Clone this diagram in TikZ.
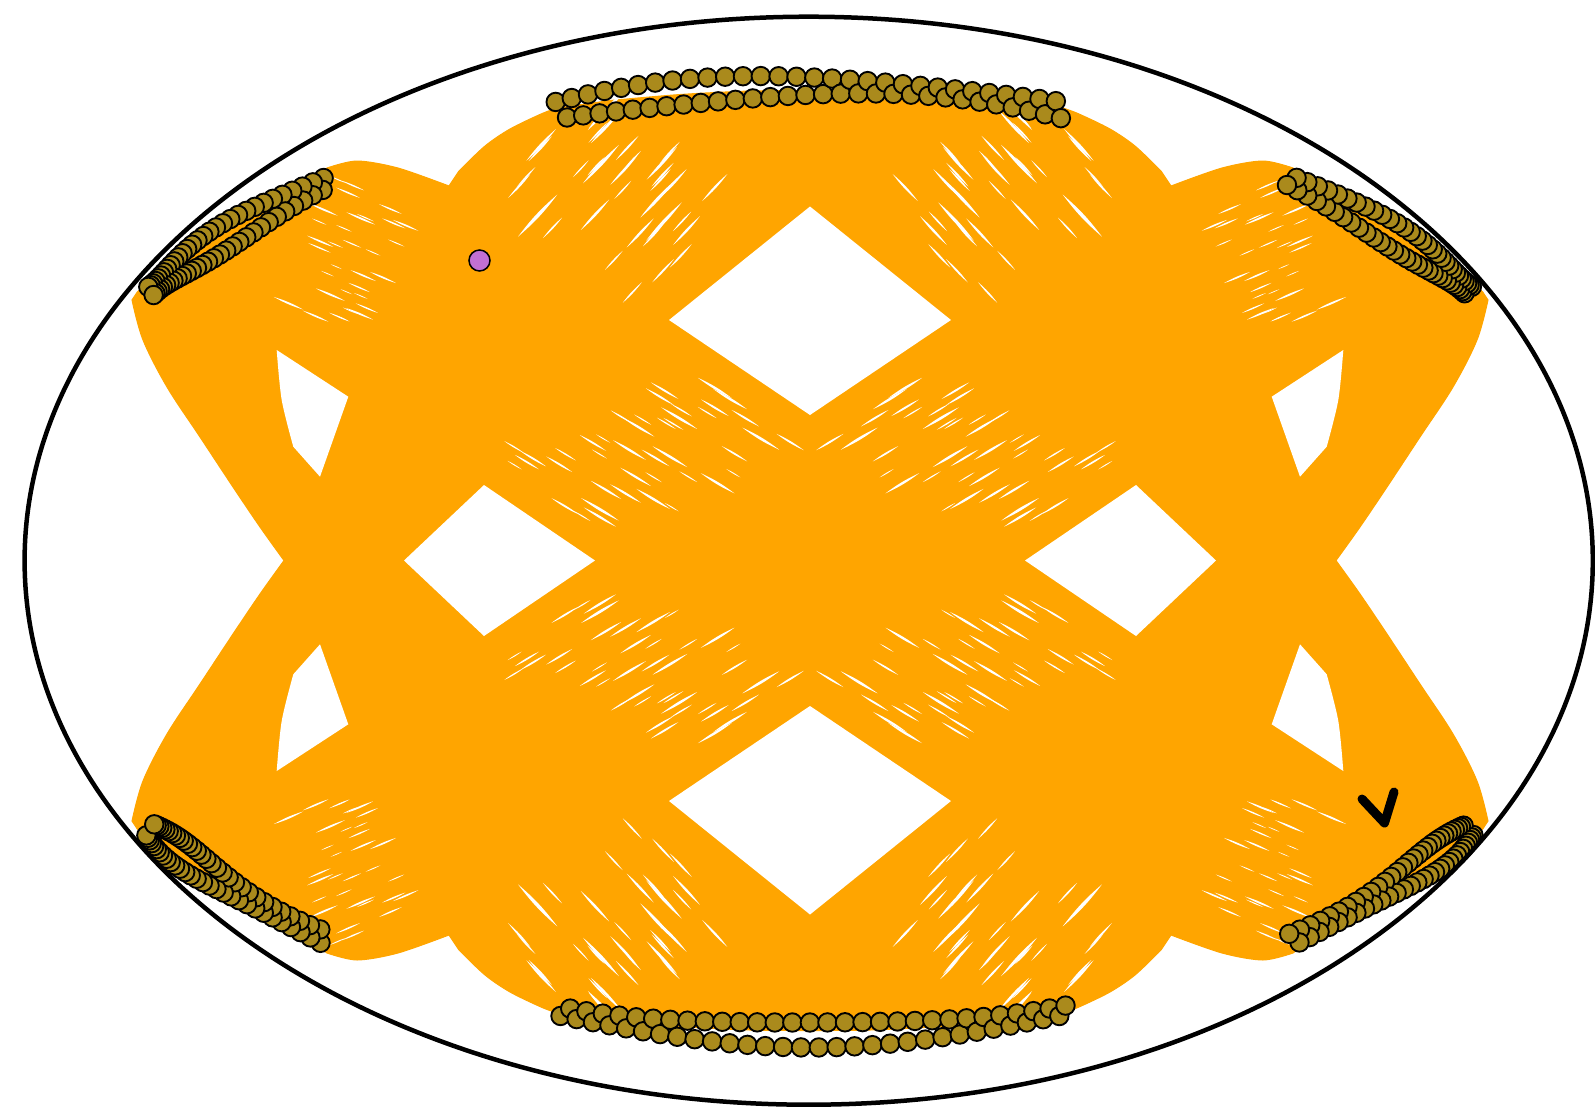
\documentclass[tikz,border=0pt]{standalone}
\definecolor{band}{RGB}{255,165,0}
\definecolor{ball}{RGB}{170,138,28}
\definecolor{startc}{RGB}{194,112,212}
\tikzset{
  quad/.style={fill=band, draw=band, line width=0.4pt},
  hole/.style={fill=white},
  gap/.style={fill=white},
  bouncedot/.style={fill=ball, draw=black, line width=0.75pt},
  table/.style={draw=black, line width=1.8pt},
  chevron/.style={draw=black, line width=3.6pt, line cap=round, line join=round},
}
\newcommand\quarterpath{%
  (1,1) -- (-526,1) -- plot[smooth, tension=0.55] coordinates {(-526,0) (-550,-33.5) (-577,-73.5) (-610,-123.5) (-643,-173.5) (-667,-220.5) (-678,-260.5)}
  -- plot[smooth] coordinates {(-672.6,-268.7) (-638.3,-297.4) (-592.4,-329.4) (-542,-358.9) (-498.7,-380.6)}
  -- plot[smooth] coordinates {(-483,-392.5) (-453,-399.5) (-412,-392.5) (-361,-374.5)}
  -- plot[smooth] coordinates {(-351,-389.5) (-325,-414.5) (-300,-431.5) (-269,-446.5) (-253,-452.5)}
  -- plot[smooth] coordinates {(-200,-460) (-130,-466) (-60,-469.5) (1,-470)} -- cycle}
% one thin lens-shaped gap between neighbouring chords
\newcommand\lens[4]{\path[gap] (#1,#2) to[bend left=6] (#3,#4) to[bend left=6] (#1,#2) -- cycle;}
\newcommand\streaks{%
  \pgfmathsetseed{11}%
  % chords from the top arc down to the lower-left arc
  \foreach \j in {0,...,16}{
    \foreach \r in {1,2}{
      \pgfmathsetmacro\bb{-90+11*\j+2*rand}
      \pgfmathsetmacro\aa{-10+0.2*\bb+80*rand}
      \pgfmathsetmacro\ll{10+20*rnd}
      \pgfmathsetmacro\cx{-188+\aa*0.682+\bb*0.731}
      \pgfmathsetmacro\cy{-369.5-\aa*0.731+\bb*0.682}
      \lens{\cx-\ll*0.682}{\cy+\ll*0.731}{\cx+\ll*0.682}{\cy-\ll*0.731}
    }
  }
  % chords from the upper-left arc to the lower-right arc, near their start
  \foreach \j in {0,...,15}{
    \foreach \r in {1,2}{
      \pgfmathsetmacro\bb{-70+9*\j+2*rand}
      \pgfmathsetmacro\aa{45*rand}
      \pgfmathsetmacro\ll{6+10*rnd}
      \pgfmathsetmacro\cx{-460+\aa*0.918-\bb*0.395}
      \pgfmathsetmacro\cy{-300.5+\aa*0.395+\bb*0.918}
      \lens{\cx-\ll*0.918}{\cy-\ll*0.395}{\cx+\ll*0.918}{\cy+\ll*0.395}
    }
  }
  % the same chords crossing between the diamonds
  \foreach \j in {0,...,20}{
    \foreach \r in {1,2}{
      \pgfmathsetmacro\bb{-88+9*\j+2*rand}
      \pgfmathsetmacro\aa{20-0.7*\bb+75*rand}
      \pgfmathsetmacro\ll{8+14*rnd}
      \pgfmathsetmacro\cx{-176+\aa*0.857-\bb*0.514}
      \pgfmathsetmacro\cy{-118.5+\aa*0.514+\bb*0.857}
      \lens{\cx-\ll*0.857}{\cy-\ll*0.514}{\cx+\ll*0.857}{\cy+\ll*0.514}
    }
  }
}
\begin{document}
\begin{tikzpicture}[x=0.4pt,y=-0.4pt]
\useasboundingbox (0,0) rectangle (1595,1108);
% orange trajectory band (four mirrored quarters)
\foreach \sx/\sy in {1/1,-1/1,1/-1,-1/-1}{
  \begin{scope}[shift={(810,560.5)},xscale=\sx,yscale=\sy]
    \path[quad] \quarterpath;
  \end{scope}
}
% texture of the chord families
\foreach \sx/\sy in {1/1,-1/1,1/-1,-1/-1}{
  \begin{scope}[shift={(810,560.5)},xscale=\sx,yscale=\sy]
    \streaks
  \end{scope}
}
% holes
\begin{scope}[shift={(810,560.5)}]
  \path[hole] (0,-354) -- (141,-240.5) -- (0,-145.5) -- (-141,-240.5) -- cycle;
  \path[hole] (0,354) -- (141,240.5) -- (0,145.5) -- (-141,240.5) -- cycle;
  \path[hole] (-406,0) -- (-326,-75.5) -- (-215,0) -- (-326,75.5) -- cycle;
  \path[hole] (406,0) -- (326,-75.5) -- (215,0) -- (326,75.5) -- cycle;
  \foreach \sx/\sy in {1/1,-1/1,1/-1,-1/-1}{
    \begin{scope}[xscale=\sx,yscale=\sy]
      \path[hole] (-461.7,-163.8) -- (-490,-83.8) -- (-516.7,-113.8)
        -- plot[smooth] coordinates {(-516.7,-113.8) (-528.3,-160.5) (-533.3,-210.5)} -- cycle;
    \end{scope}
  }
\end{scope}
% bounce dots
\foreach \k in {0,...,359}{
  \pgfmathsetmacro\th{-19+120*mod(\k,3)+0.1073*\k}
  \pgfmathsetmacro\ta{90-56.2*sin(\th)}
  \pgfmathsetmacro\sg{ifthenelse(mod(\k,2)==0,-1,1)}
  \pgfmathsetmacro\dd{17*mod(floor(\k/6),2)+4*sin(\k*29)}
  \pgfmathsetmacro\nn{sqrt((4.83*cos(\ta))^2+(8.1*sin(\ta))^2)}
  \path[bouncedot] ({810+810*cos(\ta)-\dd*4.83*cos(\ta)/\nn},{560.5+\sg*(483*sin(\ta)-\dd*8.1*sin(\ta)/\nn)}) circle[radius=3.7pt];
}
% table boundary
\draw[table] (808.7,560.7) ellipse [x radius=784.1, y radius=544];
% start position
\node[circle, fill=startc, draw=black, line width=0.6pt, minimum size=8.4pt, inner sep=0pt] (start) at (479.5,260.5) {};
% direction mark
\coordinate (v1) at (1362,799);
\coordinate (v2) at (1384.5,823);
\coordinate (v3) at (1394,792);
\draw[chevron] (v1) -- (v2) -- (v3);
\end{tikzpicture}
\end{document}
